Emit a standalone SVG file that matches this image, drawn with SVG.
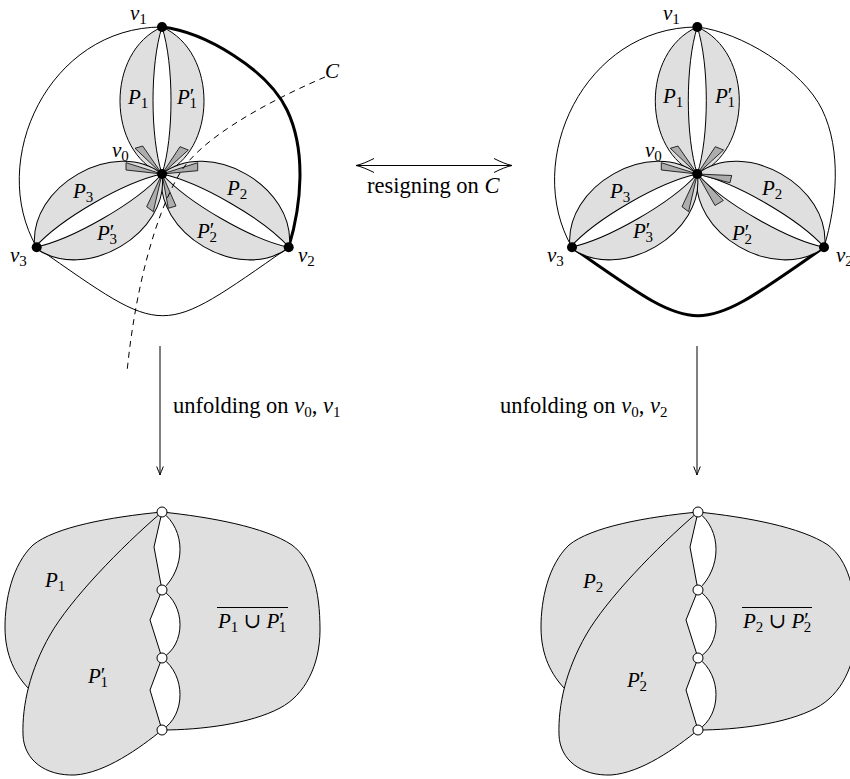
<svg xmlns="http://www.w3.org/2000/svg" width="850" height="779" viewBox="0 0 850 779">
<style>
.ln{fill:none;stroke:#000;stroke-width:1}
.thick{fill:none;stroke:#000;stroke-width:3}
.pet{fill:#dfdfdf;stroke:#000;stroke-width:1}
.hole{fill:#fff;stroke:#000;stroke-width:1}
.wedge{fill:#adadad;stroke:#000;stroke-width:0.8}
.dash{fill:none;stroke:#000;stroke-width:1;stroke-dasharray:6 5}
.dot{fill:#000}
.odot{fill:#fff;stroke:#000;stroke-width:1}
.reg{fill:#dfdfdf;stroke:#000;stroke-width:1;stroke-linejoin:round}
.fo{fill:#dfdfdf;stroke:none}
text{font-family:"Liberation Serif","DejaVu Serif",serif;font-size:21px;fill:#000}
.big{font-size:22.5px}
.it{font-style:italic}
.sub{font-size:15px;font-style:normal}
.rm{font-style:normal}
.arr{fill:none;stroke:#000;stroke-width:1}
</style>
<defs>
<marker id="toBig" markerUnits="userSpaceOnUse" viewBox="-20 -10 22 20" markerWidth="22" markerHeight="20" refX="0" refY="0" orient="auto-start-reverse" overflow="visible">
<path d="M-18,-7 C-11,-3.5 -5,-1 0,0 C-5,1 -11,3.5 -18,7" fill="none" stroke="#000" stroke-width="1"/>
</marker>
<marker id="toSmall" markerUnits="userSpaceOnUse" viewBox="-10 -5 12 10" markerWidth="12" markerHeight="10" refX="0" refY="0" orient="auto" overflow="visible">
<path d="M-8.5,-3.3 C-5,-2 -2,-0.6 0,0 C-2,0.6 -5,2 -8.5,3.3" fill="none" stroke="#000" stroke-width="1"/>
</marker>
<g id="petal">
<path class="pet" d="M0,0 C-55,-22 -57,-122 0,-147 C57,-122 55,-22 0,0Z"/>
<path class="hole" d="M0,0 C-12,-37 -12,-110 0,-147 C12,-110 12,-37 0,0Z"/>
</g>
<g id="unfold">
<path class="reg" d="M162,512 C210,517 265,527 292,545 C312,560 320,590 320,630 C320,665 305,695 280,708 C250,724 200,730 162,730 C186,715 186,675 162,658 C186,645 186,605 162,590 C186,568 186,530 162,512 Z"/>
<path class="fo" d="M162,512 C110,517 55,527 33,545 C12,565 5,600 5,627 C5,655 15,675 30,690 L60,700 L140,560 L158,515 Z"/>
<path class="ln" d="M162,512 C110,517 55,527 33,545 C12,565 5,600 5,627 C5,655 15,675 30,690"/>
<path class="reg" d="M162,512 C120,548 70,600 50,635 C30,670 22,705 23,735 C24,760 45,776 75,775 C105,773 140,748 162,730 L150,690 L162,658 L150,620 L162,590 L154,547 Z"/>
<circle class="odot" cx="162" cy="512" r="5"/>
<circle class="odot" cx="162" cy="590" r="5"/>
<circle class="odot" cx="162" cy="658" r="5"/>
<circle class="odot" cx="162" cy="730" r="5"/>
</g>
</defs>

<!-- top-left diagram -->
<g id="top-left">
<g id="tl-edges">
<path class="ln" d="M162,27 C49,27 -13.3,160.9 36.7,247.3"/>
<path class="thick" d="M162,27 C205,32 267.6,69.5 287,110 C306.4,150.5 301.6,204.3 288.7,247.3"/>
<path class="ln" d="M36.7,247.3 C167.7,338.5 157.7,338.5 288.7,247.3"/>
</g>
<g id="tl-petals">
<use href="#petal" transform="translate(162 174)"/>
<use href="#petal" transform="translate(162 174) rotate(120)"/>
<use href="#petal" transform="translate(162 174) rotate(240)"/>
</g>
<g id="tl-wedges">
<polygon class="wedge" points="162,174 135,148.3 142.7,146"/>
<polygon class="wedge" points="162,174 180,146.7 188.3,150"/>
<polygon class="wedge" points="162,174 126,162.7 126,170"/>
<polygon class="wedge" points="162,174 197.7,162.7 197.7,170.7"/>
<polygon class="wedge" points="162,174 146.7,206.7 153.3,211.7"/>
<polygon class="wedge" points="162,174 168.3,208.3 176,206"/>
</g>
<g id="tl-curveC">
<path class="dash" d="M325,77 C260,105 200,140 180,173 C155,215 135,290 127,372"/>
<text class="it" x="325" y="78">C</text>
</g>
<g id="tl-labels">
<text class="it" x="128" y="104">P<tspan class="sub" dy="4">1</tspan></text>
<text class="it" x="177" y="104">P<tspan class="rm" dy="-1">′</tspan><tspan class="sub" dx="-5" dy="5">1</tspan></text>
<text class="it" x="73" y="198">P<tspan class="sub" dy="4">3</tspan></text>
<text class="it" x="97" y="240">P<tspan class="rm" dy="-1">′</tspan><tspan class="sub" dx="-5" dy="5">3</tspan></text>
<text class="it" x="227" y="195">P<tspan class="sub" dy="4">2</tspan></text>
<text class="it" x="197" y="238">P<tspan class="rm" dy="-1">′</tspan><tspan class="sub" dx="-5" dy="5">2</tspan></text>
</g>
<g id="tl-v1"><circle class="dot" cx="162" cy="27" r="5"/><text class="it" x="130" y="20">v<tspan class="sub" dy="4">1</tspan></text></g>
<g id="tl-v0"><circle class="dot" cx="162" cy="174" r="5"/><text class="it" x="112" y="157">v<tspan class="sub" dy="4">0</tspan></text></g>
<g id="tl-v2"><circle class="dot" cx="288.7" cy="247.3" r="5"/><text class="it" x="298" y="262">v<tspan class="sub" dy="4">2</tspan></text></g>
<g id="tl-v3"><circle class="dot" cx="36.7" cy="247.3" r="5"/><text class="it" x="10" y="262">v<tspan class="sub" dy="4">3</tspan></text></g>
</g>

<!-- top-right diagram -->
<g id="top-right">
<g id="tr-edges" transform="translate(535.3 0)">
<path class="ln" d="M162,27 C49,27 -13.3,160.9 36.7,247.3"/>
<path class="ln" d="M162,27 C205,32 267.6,69.5 287,110 C306.4,150.5 301.6,204.3 288.7,247.3"/>
<path class="thick" d="M36.7,247.3 C167.7,338.5 157.7,338.5 288.7,247.3"/>
</g>
<g id="tr-petals" transform="translate(535.3 0)">
<use href="#petal" transform="translate(162 174)"/>
<use href="#petal" transform="translate(162 174) rotate(120)"/>
<use href="#petal" transform="translate(162 174) rotate(240)"/>
</g>
<g id="tr-wedges" transform="translate(535.3 0)">
<polygon class="wedge" points="162,174 135,148.3 142.7,146"/>
<polygon class="wedge" points="162,174 180,146.7 188.3,150"/>
<polygon class="wedge" points="162,174 126,162.7 126,170"/>
<polygon class="wedge" points="162,174 196.4,175.5 194.7,182.8"/>
<polygon class="wedge" points="162,174 146.7,206.7 153.3,211.7"/>
<polygon class="wedge" points="162,174 179.7,205.5 188,200.5"/>
</g>
<g id="tr-labels">
<text class="it" x="663" y="103">P<tspan class="sub" dy="4">1</tspan></text>
<text class="it" x="715" y="103">P<tspan class="rm" dy="-1">′</tspan><tspan class="sub" dx="-5" dy="5">1</tspan></text>
<text class="it" x="610" y="198">P<tspan class="sub" dy="4">3</tspan></text>
<text class="it" x="633" y="238">P<tspan class="rm" dy="-1">′</tspan><tspan class="sub" dx="-5" dy="5">3</tspan></text>
<text class="it" x="762" y="195">P<tspan class="sub" dy="4">2</tspan></text>
<text class="it" x="732" y="240">P<tspan class="rm" dy="-1">′</tspan><tspan class="sub" dx="-5" dy="5">2</tspan></text>
</g>
<g id="tr-v1"><circle class="dot" cx="697.3" cy="27" r="5"/><text class="it" x="663" y="20">v<tspan class="sub" dy="4">1</tspan></text></g>
<g id="tr-v0"><circle class="dot" cx="697.3" cy="174" r="5"/><text class="it" x="645" y="157">v<tspan class="sub" dy="4">0</tspan></text></g>
<g id="tr-v2"><circle class="dot" cx="824" cy="247.3" r="5"/><text class="it" x="836" y="262">v<tspan class="sub" dy="4">2</tspan></text></g>
<g id="tr-v3"><circle class="dot" cx="572" cy="247.3" r="5"/><text class="it" x="547" y="262">v<tspan class="sub" dy="4">3</tspan></text></g>
</g>

<!-- bottom-left -->
<g id="bottom-left">
<use href="#unfold"/>
<text class="it" x="45" y="587">P<tspan class="sub" dy="4">1</tspan></text>
<text class="it" x="88" y="683">P<tspan class="rm" dy="-1">′</tspan><tspan class="sub" dx="-5" dy="5">1</tspan></text>
<g id="bl-union">
<line class="ln" x1="217" y1="607.5" x2="288" y2="607.5"/>
<text x="218" y="628"><tspan class="it">P</tspan><tspan class="sub" dy="4">1</tspan><tspan dy="-4"> ∪ </tspan><tspan class="it">P</tspan><tspan dy="-1">′</tspan><tspan class="sub" dx="-5" dy="5">1</tspan></text>
</g>
</g>

<!-- bottom-right -->
<g id="bottom-right">
<use href="#unfold" transform="translate(536 0)"/>
<text class="it" x="583" y="588">P<tspan class="sub" dy="4">2</tspan></text>
<text class="it" x="627" y="687">P<tspan class="rm" dy="-1">′</tspan><tspan class="sub" dx="-5" dy="5">2</tspan></text>
<g id="br-union">
<line class="ln" x1="742" y1="607.5" x2="812" y2="607.5"/>
<text x="743" y="628"><tspan class="it">P</tspan><tspan class="sub" dy="4">2</tspan><tspan dy="-4"> ∪ </tspan><tspan class="it">P</tspan><tspan dy="-1">′</tspan><tspan class="sub" dx="-5" dy="5">2</tspan></text>
</g>
</g>

<!-- connectors -->
<g id="connectors">
<g id="arrow-resign">
<path class="arr" d="M356,165.5 H512" marker-start="url(#toBig)" marker-end="url(#toBig)"/>
<text class="big" x="367" y="193">resigning on <tspan class="it">C</tspan></text>
</g>
<g id="arrow-unfold-left">
<path class="arr" d="M160,346 V475" marker-end="url(#toSmall)"/>
<text class="big" x="173" y="413">unfolding on <tspan class="it">v</tspan><tspan class="sub" dy="4">0</tspan><tspan dy="-4">, </tspan><tspan class="it">v</tspan><tspan class="sub" dy="4">1</tspan></text>
</g>
<g id="arrow-unfold-right">
<path class="arr" d="M697,346 V475" marker-end="url(#toSmall)"/>
<text class="big" x="500" y="413">unfolding on <tspan class="it">v</tspan><tspan class="sub" dy="4">0</tspan><tspan dy="-4">, </tspan><tspan class="it">v</tspan><tspan class="sub" dy="4">2</tspan></text>
</g>
</g>
</svg>
